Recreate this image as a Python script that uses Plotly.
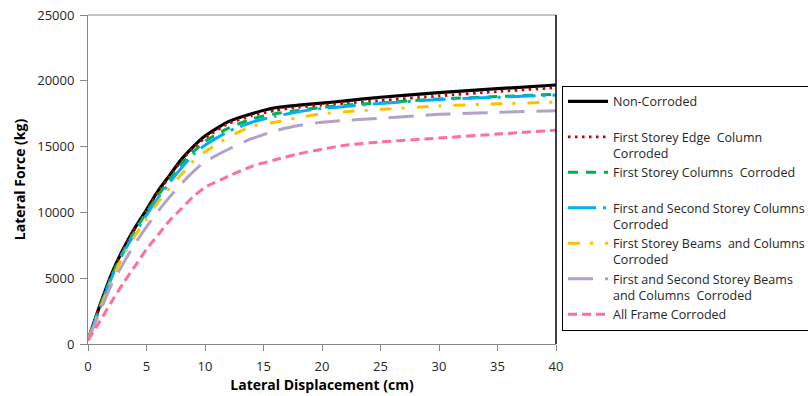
import plotly.graph_objects as go

# Lateral displacement (cm)
displacement = [0, 1, 2, 3, 4, 5, 6, 7, 8, 9, 10, 12, 14, 16, 18, 20, 22, 25, 30, 35, 40]

# Lateral force (kg) for each case
non_corroded   = [300, 2900, 5300, 7200, 8800, 10200, 11650, 12850, 14050, 15000, 15800, 16900, 17500, 17950, 18150, 18300, 18480, 18750, 19100, 19400, 19680]
edge_column    = [300, 2850, 5250, 7150, 8750, 10150, 11550, 12750, 13950, 14900, 15650, 16750, 17350, 17750, 17990, 18150, 18300, 18500, 18850, 19180, 19480]
first_columns  = [300, 2800, 5100, 7000, 8600, 10000, 11300, 12500, 13700, 14600, 15400, 16400, 17100, 17500, 17750, 17980, 18150, 18320, 18620, 18800, 18980]
fs_columns     = [300, 2700, 5000, 6900, 8400, 9800, 11100, 12300, 13400, 14400, 15100, 16150, 16850, 17300, 17650, 17900, 18050, 18280, 18580, 18750, 18920]
first_beams    = [300, 2600, 4800, 6700, 8200, 9500, 10800, 11900, 12900, 13900, 14600, 15700, 16550, 16850, 17200, 17500, 17650, 17830, 18090, 18250, 18380]
fs_beams       = [300, 2400, 4500, 6100, 7600, 8900, 10100, 11200, 12200, 13100, 13850, 14800, 15600, 16200, 16600, 16850, 17000, 17150, 17450, 17600, 17730]
all_frame      = [300, 1700, 3200, 4600, 5900, 7200, 8300, 9400, 10300, 11200, 11900, 12750, 13500, 14000, 14450, 14800, 15100, 15350, 15650, 15950, 16250]

names = [
    "Non-Corroded<br> ",
    "First Storey Edge  Column<br>Corroded",
    "First Storey Columns  Corroded<br> ",
    "First and Second Storey Columns<br>Corroded",
    "First Storey Beams  and Columns<br>Corroded",
    "First and Second Storey Beams<br>and Columns  Corroded",
    "All Frame Corroded",
]
series = [non_corroded, edge_column, first_columns, fs_columns, first_beams, fs_beams, all_frame]
colors = ["#000000", "#C00000", "#00B050", "#00B0F0", "#FFC000", "#B3A2C7", "#FF6F9C"]
dashes = ["solid", "2.5px,4.5px", "10px,8px", "28px,7px,3px,7px", "12px,10px,3px,12px", "25px,12px", "9px,5px"]
widths = [3.2, 2.8, 3, 3, 3, 3, 3]

fig = go.Figure()
for nm, ys, c, d, w in zip(names, series, colors, dashes, widths):
    fig.add_trace(go.Scatter(
        x=displacement, y=ys, name=nm, mode="lines",
        line=dict(color=c, dash=d, width=w, shape="spline", smoothing=0.6),
    ))

FONT = "Open Sans"
axis_font = dict(family=FONT, size=13, color="#262626")
title_font = dict(family=FONT, size=14, color="#000000")
fig.update_layout(
    width=808, height=396,
    margin=dict(l=88, r=252, t=15, b=52, autoexpand=False),
    paper_bgcolor="white", plot_bgcolor="white",
    font=dict(family=FONT, size=13, color="#262626"),
    showlegend=True,
    legend=dict(
        x=1.0128, xanchor="left", y=0.785, yanchor="top",
        bordercolor="#000000", borderwidth=1, bgcolor="white",
        font=dict(family=FONT, size=12.5, color="#262626"),
        valign="top", tracegroupgap=0, itemwidth=40,
    ),
    xaxis=dict(
        range=[0, 40], dtick=5, tick0=0, showgrid=False, zeroline=False,
        showline=True, linecolor="#868686", linewidth=1,
        ticks="outside", ticklen=6, tickcolor="#868686",
        tickfont=axis_font, ticklabelstandoff=4,
        title=dict(text="<b>Lateral Displacement (cm)</b>", font=title_font, standoff=2),
    ),
    yaxis=dict(
        range=[0, 25000], dtick=5000, tick0=0, showgrid=False, zeroline=False,
        showline=True, linecolor="#868686", linewidth=1,
        ticks="outside", ticklen=7, tickcolor="#868686",
        tickformat="d", tickfont=axis_font, ticklabelstandoff=3,
        title=dict(text="<b>Lateral Force (kg)</b>", font=title_font, standoff=8),
    ),
    shapes=[
        dict(type="line", xref="paper", yref="paper", x0=0, x1=1, y0=1, y1=1,
             line=dict(color="#868686", width=1)),
        dict(type="line", xref="paper", yref="paper", x0=1, x1=1, y0=0, y1=1,
             line=dict(color="#000000", width=1.5)),
    ],
)

fig.write_html("out.html", config={"displayModeBar": False},
               post_script="document.body.style.margin='0px';")
